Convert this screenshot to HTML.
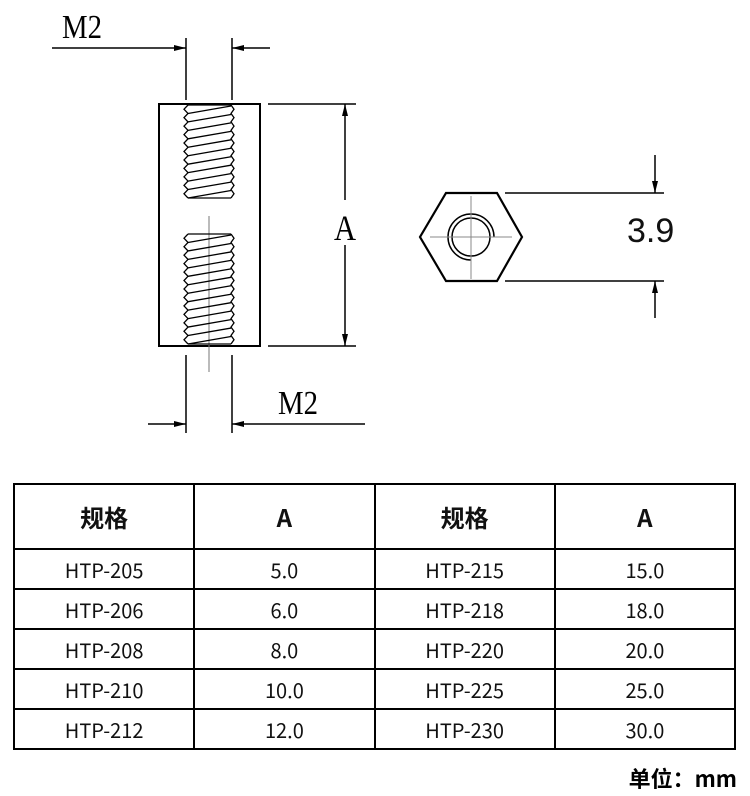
<!DOCTYPE html>
<html><head><meta charset="utf-8"><style>
body{margin:0;background:#fff;width:750px;height:796px;overflow:hidden;position:relative;font-family:"Liberation Sans","Noto Sans CJK SC",sans-serif}
svg{position:absolute;left:0;top:0}
table{position:absolute;left:13px;top:483px;border-collapse:collapse;width:723px;table-layout:fixed}
td{border:2px solid #000;text-align:center;font-family:"Noto Sans CJK SC",sans-serif;font-size:20px;color:#111;padding:0;height:38px;width:25%}
tr.h td{height:63px;font-weight:bold;font-size:24px}
.unit{position:absolute;right:13px;top:762px;font-family:"Noto Sans CJK SC",sans-serif;font-weight:bold;font-size:22px}
</style></head><body>
<svg width="750" height="480" viewBox="0 0 750 480">
<defs>
<marker id="ar" markerWidth="12" markerHeight="6" refX="12" refY="3" orient="auto" markerUnits="userSpaceOnUse"><path d="M0,0 L12,3 L0,6 Z" fill="#000"/></marker>
</defs>
<g stroke="#000" fill="none" stroke-width="1.5">
<rect x="159" y="104" width="101" height="242" stroke-width="2"/>
<line x1="186" y1="38" x2="186" y2="100"/>
<line x1="232" y1="38" x2="232" y2="100"/>
<line x1="52" y1="48" x2="186" y2="48" marker-end="url(#ar)"/>
<line x1="270" y1="48" x2="232" y2="48" marker-end="url(#ar)"/>
<line x1="186" y1="355" x2="186" y2="433"/>
<line x1="232" y1="355" x2="232" y2="433"/>
<line x1="148" y1="424" x2="186" y2="424" marker-end="url(#ar)"/>
<line x1="365" y1="424" x2="232" y2="424" marker-end="url(#ar)"/>
<line x1="268" y1="104" x2="356" y2="104"/>
<line x1="268" y1="346" x2="356" y2="346"/>
<line x1="345" y1="200" x2="345" y2="104" marker-end="url(#ar)"/>
<line x1="345" y1="245" x2="345" y2="346" marker-end="url(#ar)"/>
<line x1="209" y1="216" x2="209" y2="372" stroke="#777" stroke-width="1"/>
<g id="thr" stroke-width="1.3"></g>
<polygon points="446,193 497,193 522,237 497,281 446,281 420,237" stroke-width="2.2"/>
<circle cx="471" cy="237" r="19"/>
<path d="M494,237 A23,23 0 1 0 471,260" />
<line x1="430" y1="237" x2="512" y2="237" stroke="#888" stroke-width="1"/>
<line x1="471" y1="196" x2="471" y2="279" stroke="#888" stroke-width="1"/>
<line x1="505" y1="193" x2="664" y2="193"/>
<line x1="505" y1="281" x2="664" y2="281"/>
<line x1="655" y1="155" x2="655" y2="193" marker-end="url(#ar)"/>
<line x1="655" y1="318" x2="655" y2="281" marker-end="url(#ar)"/>
</g>
<g font-family="Liberation Serif,serif" font-size="34" fill="#000">
<text x="62" y="38" textLength="40" lengthAdjust="spacingAndGlyphs">M2</text>
<text x="278" y="414" textLength="40" lengthAdjust="spacingAndGlyphs">M2</text>
<text x="334" y="240" font-size="36" textLength="22" lengthAdjust="spacingAndGlyphs">A</text>
</g>
<text x="627" y="242" font-family="Liberation Sans,sans-serif" font-size="34" fill="#111">3.9</text>
</svg>
<table>
<tr class="h"><td>规格</td><td>A</td><td>规格</td><td>A</td></tr>
<tr><td>HTP-205</td><td>5.0</td><td>HTP-215</td><td>15.0</td></tr>
<tr><td>HTP-206</td><td>6.0</td><td>HTP-218</td><td>18.0</td></tr>
<tr><td>HTP-208</td><td>8.0</td><td>HTP-220</td><td>20.0</td></tr>
<tr><td>HTP-210</td><td>10.0</td><td>HTP-225</td><td>25.0</td></tr>
<tr><td>HTP-212</td><td>12.0</td><td>HTP-230</td><td>30.0</td></tr>
</table>
<div class="unit">单位：mm</div>
<script>
var g=document.getElementById('thr'),ns='http://www.w3.org/2000/svg';
function thread(y0,y1){
 var p=8.5,n=Math.round((y1-y0)/p);
 var pts=[],pts2=[];
 for(var i=0;i<=n;i++){var y=y0+i*(y1-y0)/n;pts.push([188,y]);pts2.push([231,y]);if(i<n){var ym=y+(y1-y0)/n/2;pts.push([184,ym]);pts2.push([234,ym]);}}
 var pl=document.createElementNS(ns,'polyline');pl.setAttribute('points',pts.map(a=>a.join(',')).join(' '));g.appendChild(pl);
 var pl2=document.createElementNS(ns,'polyline');pl2.setAttribute('points',pts2.map(a=>a.join(',')).join(' '));g.appendChild(pl2);
 var s=(y1-y0)/n;
 for(var i=0;i<n;i++){var l=document.createElementNS(ns,'line');l.setAttribute('x1',188);l.setAttribute('y1',y0+(i+1)*s);l.setAttribute('x2',231);l.setAttribute('y2',y0+i*s+1);g.appendChild(l);}
 var a=document.createElementNS(ns,'line');a.setAttribute('x1',188);a.setAttribute('x2',231);a.setAttribute('y1',y1);a.setAttribute('y2',y1);g.appendChild(a);
 var b=document.createElementNS(ns,'line');b.setAttribute('x1',188);b.setAttribute('x2',231);b.setAttribute('y1',y0);b.setAttribute('y2',y0);g.appendChild(b);
}
thread(105,198);thread(234,344);
</script>
</body></html>
